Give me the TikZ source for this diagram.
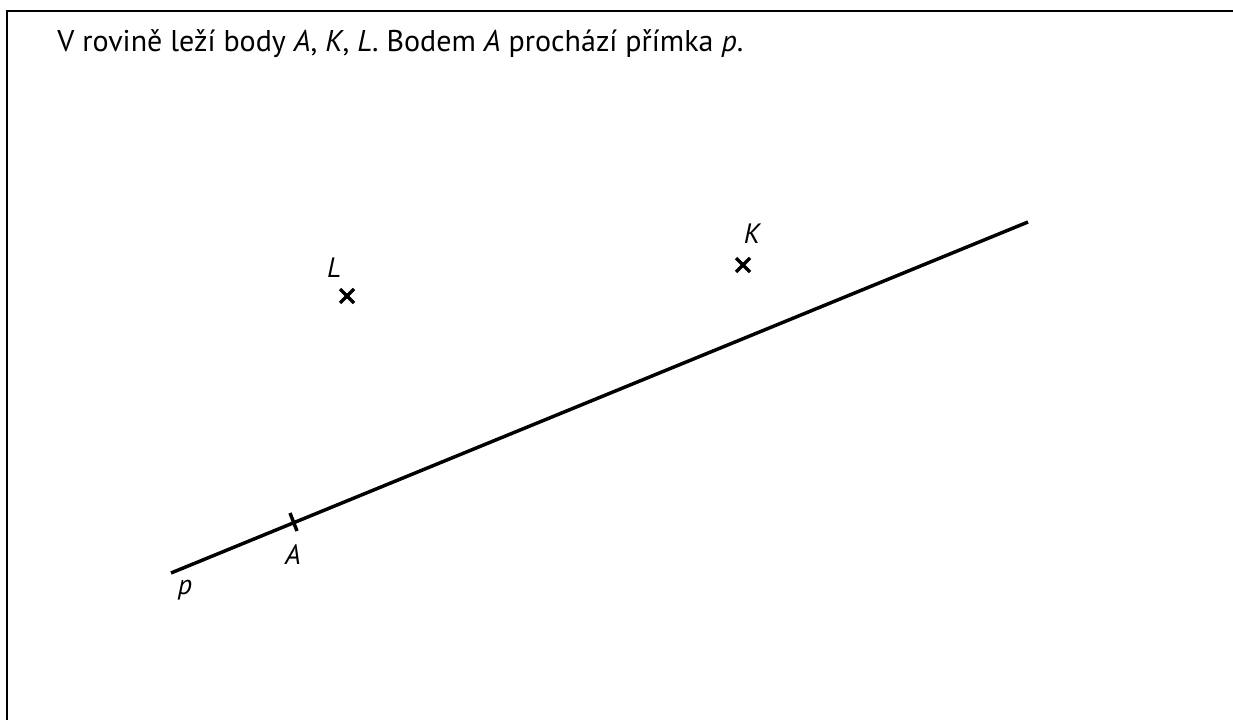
\documentclass[tikz,border=0pt]{standalone}
\usepackage{fontspec}
\setmainfont{PT Sans}
\usetikzlibrary{calc}
\begin{document}
\begin{tikzpicture}[x=0.75pt,y=-0.75pt,
  frame/.style={line width=2pt},
  lineP/.style={line width=2.6pt},
  crossmark/.style={line width=2.6pt},
  lbl/.style={font=\fontsize{21}{24}\selectfont\itshape, inner sep=0pt}]
\useasboundingbox (0,0) rectangle (1233,720);
% frame (top and left edges)
\coordinate (fl) at (7,720);
\coordinate (ftl) at (7,11);
\coordinate (ftr) at (1233,11);
\draw[frame] (fl) -- (ftl) -- (ftr);
% title
\node[anchor=base west, inner sep=0pt, font=\fontsize{22.5}{26}\selectfont] (title) at (57,52)
  {V rovině leží body \textit{A}, \textit{K}, \textit{L}. Bodem \textit{A} prochází přímka \textit{p}.};
% line p
\coordinate (p1) at (171,573);
\coordinate (p2) at (1028,222);
\draw[lineP] (p1) -- (p2);
% point A on p with tick
\coordinate (At1) at (290,513);
\coordinate (At2) at (297,531);
\draw[lineP] (At1) -- (At2);
\node[lbl] (Alab) at (293,555) {A};
\node[lbl] (plab) at (185,590) {p};
% point L
\coordinate (L) at (347,296);
\draw[crossmark] ($(L)+(-7,-7)$) -- ($(L)+(7,7)$);
\draw[crossmark] ($(L)+(-7,7)$) -- ($(L)+(7,-7)$);
\node[lbl] (Llab) at (334,268) {L};
% point K
\coordinate (K) at (743,265);
\draw[crossmark] ($(K)+(-7,-7)$) -- ($(K)+(7,7)$);
\draw[crossmark] ($(K)+(-7,7)$) -- ($(K)+(7,-7)$);
\node[lbl] (Klab) at (752,234) {K};
\end{tikzpicture}
\end{document}
